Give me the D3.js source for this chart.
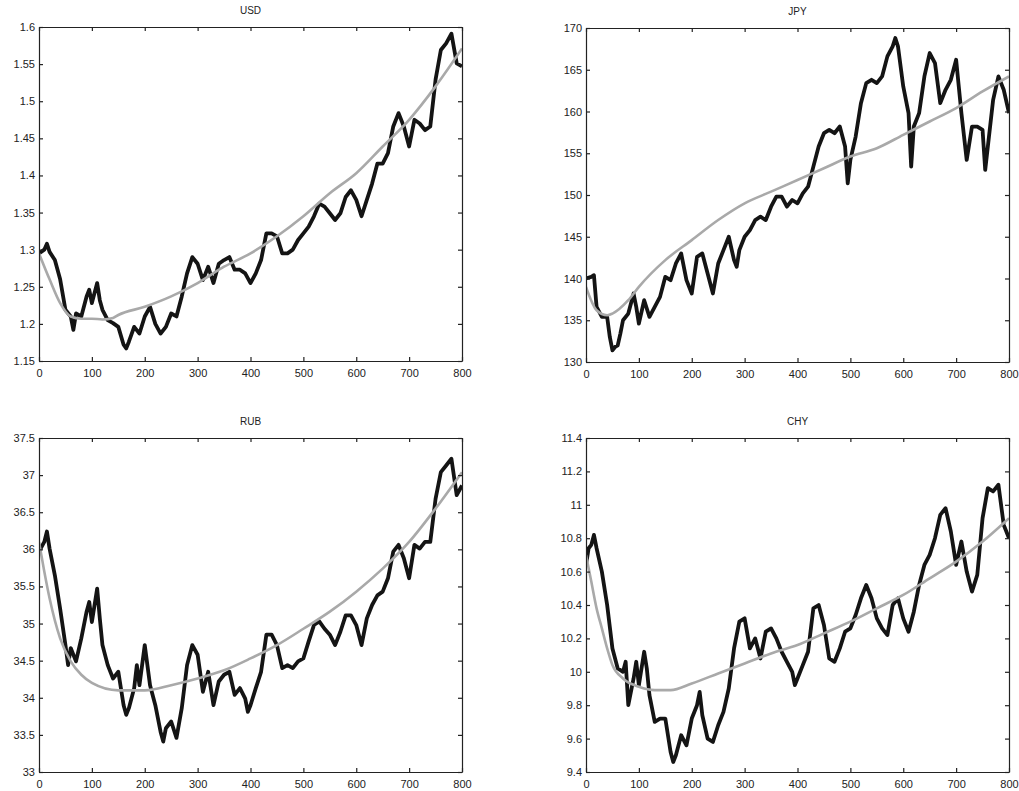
<!DOCTYPE html>
<html><head><meta charset="utf-8">
<script src="https://cdn.jsdelivr.net/npm/d3@7"></script>
<style>
body{margin:0;background:#fff;}
svg{display:block;}
text{font-family:"Liberation Sans",Arial,Helvetica,sans-serif;}
</style></head>
<body>
<svg id="chart" width="1019" height="791"></svg>
<script>
// ---- data ----
const titles = ["USD", "JPY", "RUB", "CHY"];

const xTicks = [0,100,200,300,400,500,600,700,800];

const usdT = [0,10,15,20,30,40,50,60,65,70,80,90,95,100,110,115,120,130,140,150,160,165,170,180,190,200,210,220,230,240,250,260,270,280,290,300,310,320,330,340,350,360,370,380,390,400,410,420,430,440,450,460,470,480,490,500,510,520,530,540,550,560,570,580,590,600,610,620,630,640,650,660,670,680,690,700,710,720,730,740,750,760,770,780,790,800];
const usdV = [1.295,1.30,1.308,1.297,1.286,1.26,1.219,1.21,1.192,1.214,1.21,1.237,1.246,1.228,1.255,1.232,1.219,1.205,1.201,1.196,1.172,1.167,1.176,1.196,1.187,1.21,1.223,1.2,1.187,1.196,1.214,1.21,1.237,1.268,1.29,1.281,1.259,1.277,1.255,1.281,1.286,1.29,1.273,1.273,1.268,1.255,1.268,1.286,1.322,1.322,1.318,1.295,1.295,1.30,1.313,1.322,1.331,1.345,1.362,1.358,1.349,1.34,1.349,1.371,1.38,1.367,1.345,1.367,1.389,1.416,1.416,1.43,1.466,1.484,1.466,1.439,1.475,1.47,1.461,1.466,1.529,1.569,1.578,1.591,1.551,1.547];
const usdFitT = [0,20,40,60,80,100,120,140,150,200,250,300,350,400,450,500,550,600,650,700,750,800];
const usdFitV = [1.295,1.26,1.228,1.21,1.207,1.207,1.206,1.208,1.212,1.223,1.237,1.255,1.277,1.295,1.318,1.345,1.376,1.403,1.439,1.475,1.52,1.571];
const usdYTicks = [1.15,1.2,1.25,1.3,1.35,1.4,1.45,1.5,1.55,1.6];

const jpyT = [0,10,15,20,30,40,45,50,55,60,65,70,80,90,95,100,110,120,130,140,150,160,170,180,190,200,210,220,230,240,250,260,270,280,285,290,300,310,320,330,340,350,360,370,380,390,400,410,420,430,440,450,460,470,480,490,495,500,510,520,530,540,550,560,570,580,585,590,600,610,615,620,630,640,650,660,670,680,690,700,710,720,730,740,750,755,760,770,780,790,800];
const jpyV = [140,140.2,140.4,136.6,135.4,135.4,133,131.4,131.8,132,133.4,135,135.8,138.2,136.6,134.6,137.4,135.4,136.6,137.8,140.2,139.8,141.8,143,139.8,138.2,142.6,143,140.6,138.2,141.8,143.4,145,142.2,141.4,143.4,145,145.8,147,147.4,147,148.6,149.8,149.8,148.6,149.4,149,150.2,151,153.4,155.8,157.4,157.8,157.4,158.2,155.8,151.4,154.2,157,161,163.4,163.8,163.4,164.2,166.6,167.8,168.8,167.8,163,159.8,153.4,158.2,159.8,164.2,167,165.8,161,162.6,163.8,166.2,159.8,154.2,158.2,158.2,157.8,153,155.8,161.4,164.2,162.6,159.8];
const jpyFitT = [0,20,40,50,80,100,150,200,250,300,350,400,450,500,550,600,650,700,750,800];
const jpyFitV = [139,136.2,135.6,135.8,137.4,139,142.2,144.6,147,149,150.4,151.8,153.2,154.6,155.6,157.2,158.8,160.4,162.4,164.2];
const jpyYTicks = [130,135,140,145,150,155,160,165,170];

const rubT = [0,10,15,20,30,40,50,55,60,70,80,90,95,100,110,115,120,130,140,150,160,165,170,180,185,190,200,210,220,230,235,240,250,260,270,280,290,300,310,320,330,340,350,360,370,380,390,395,400,410,420,430,440,450,460,470,480,490,500,510,520,530,540,550,560,570,580,590,600,610,620,630,640,650,660,670,680,690,700,710,720,730,740,750,760,770,780,790,800];
const rubV = [35.97,36.1,36.24,36.01,35.65,35.2,34.71,34.44,34.67,34.49,34.8,35.16,35.29,35.02,35.47,35.07,34.71,34.44,34.26,34.35,33.9,33.77,33.86,34.13,34.44,34.17,34.71,34.17,33.9,33.54,33.41,33.59,33.68,33.46,33.86,34.44,34.71,34.58,34.08,34.35,33.9,34.22,34.31,34.35,34.04,34.13,33.99,33.81,33.9,34.13,34.35,34.85,34.85,34.71,34.4,34.44,34.4,34.49,34.53,34.76,34.98,35.03,34.93,34.85,34.71,34.89,35.11,35.11,34.98,34.71,35.07,35.25,35.38,35.43,35.61,35.97,36.06,35.88,35.61,36.06,36.01,36.1,36.1,36.68,37.04,37.13,37.22,36.73,36.86];
const rubFitT = [0,10,20,40,60,80,100,150,200,250,300,350,400,450,500,550,600,650,700,750,800];
const rubFitV = [36.1,35.7,35.34,34.8,34.49,34.31,34.2,34.1,34.1,34.17,34.26,34.37,34.53,34.71,34.93,35.16,35.43,35.74,36.1,36.55,37.04];
const rubYTicks = [33,33.5,34,34.5,35,35.5,36,36.5,37,37.5];

const chyT = [0,5,10,15,20,30,40,50,60,70,75,80,90,95,100,110,115,120,130,140,150,160,165,170,180,190,200,210,215,220,230,240,250,260,270,280,290,300,310,320,330,340,350,360,370,380,390,395,400,410,420,430,440,450,460,470,480,490,500,510,520,530,540,550,560,570,580,590,600,610,620,630,640,650,660,670,680,690,700,710,720,730,740,750,760,770,780,790,800];
const chyV = [10.64,10.74,10.76,10.82,10.74,10.6,10.4,10.14,10.02,10.0,10.06,9.8,9.96,10.06,9.92,10.12,10.02,9.86,9.7,9.72,9.72,9.52,9.46,9.5,9.62,9.56,9.72,9.8,9.88,9.74,9.6,9.58,9.68,9.76,9.9,10.14,10.3,10.32,10.14,10.2,10.08,10.24,10.26,10.2,10.12,10.06,10.0,9.92,9.96,10.04,10.12,10.38,10.4,10.28,10.08,10.06,10.14,10.24,10.26,10.34,10.44,10.52,10.44,10.32,10.26,10.22,10.4,10.44,10.32,10.24,10.36,10.52,10.64,10.7,10.8,10.94,10.98,10.84,10.64,10.78,10.6,10.48,10.58,10.92,11.1,11.08,11.12,10.88,10.8];
const chyFitT = [0,10,20,30,40,50,70,100,130,160,200,250,300,350,400,450,500,550,600,650,700,750,800];
const chyFitV = [10.7,10.54,10.38,10.26,10.14,10.04,9.96,9.91,9.89,9.89,9.93,9.99,10.05,10.11,10.16,10.23,10.3,10.38,10.46,10.56,10.66,10.78,10.92];
const chyYTicks = [9.4,9.6,9.8,10,10.2,10.4,10.6,10.8,11,11.2,11.4];

// ---- layout ----
const panels = [
  {title: titles[0], t: usdT, v: usdV, ft: usdFitT, fv: usdFitV, yt: usdYTicks, x0: 39, x1: 462, y0: 27, y1: 361},
  {title: titles[1], t: jpyT, v: jpyV, ft: jpyFitT, fv: jpyFitV, yt: jpyYTicks, x0: 586, x1: 1009, y0: 28, y1: 362},
  {title: titles[2], t: rubT, v: rubV, ft: rubFitT, fv: rubFitV, yt: rubYTicks, x0: 39, x1: 462, y0: 438, y1: 772},
  {title: titles[3], t: chyT, v: chyV, ft: chyFitT, fv: chyFitV, yt: chyYTicks, x0: 586, x1: 1009, y0: 438, y1: 772}
];

const svg = d3.select("#chart");
const fmt = d => String(+d.toFixed(2));

panels.forEach(p => {
  const x = d3.scaleLinear().domain([0, 800]).range([p.x0, p.x1]);
  const y = d3.scaleLinear().domain([p.yt[0], p.yt[p.yt.length-1]]).range([p.y1, p.y0]);
  const g = svg.append("g");

  const clipId = "clip" + p.title;
  svg.append("clipPath").attr("id", clipId).append("rect")
    .attr("x", p.x0).attr("y", p.y0).attr("width", p.x1 - p.x0).attr("height", p.y1 - p.y0);

  const line = d3.line().x(d => x(d[0])).y(d => y(d[1]));
  const fitLine = d3.line().curve(d3.curveMonotoneX).x(d => x(d[0])).y(d => y(d[1]));

  g.append("path").datum(p.t.map((t, i) => [t, p.v[i]]))
    .attr("d", line).attr("fill", "none").attr("stroke", "#141414")
    .attr("stroke-width", 3.8).attr("stroke-linejoin", "round")
    .attr("clip-path", `url(#${clipId})`);
  g.append("path").datum(p.ft.map((t, i) => [t, p.fv[i]]))
    .attr("d", fitLine).attr("fill", "none").attr("stroke", "#a9a9a9")
    .attr("stroke-width", 2.6).attr("clip-path", `url(#${clipId})`);

  const styleAxis = sel => {
    sel.select(".domain").attr("stroke", "#222").attr("stroke-width", 1.2);
    sel.selectAll(".tick line").attr("stroke", "#222").attr("stroke-width", 1.2);
    sel.selectAll("text").attr("fill", "#222").style("font-size", "11px");
  };

  g.append("g").attr("transform", `translate(0,${p.y1})`)
    .call(d3.axisBottom(x).tickValues(xTicks).tickSize(-4).tickSizeOuter(0).tickPadding(8).tickFormat(d3.format("d")))
    .call(styleAxis);
  g.append("g").attr("transform", `translate(0,${p.y0})`)
    .call(d3.axisTop(x).tickValues(xTicks).tickSize(-4).tickSizeOuter(0).tickFormat(""))
    .call(styleAxis);
  g.append("g").attr("transform", `translate(${p.x0},0)`)
    .call(d3.axisLeft(y).tickValues(p.yt).tickSize(-4).tickSizeOuter(0).tickPadding(4).tickFormat(fmt))
    .call(styleAxis);
  g.append("g").attr("transform", `translate(${p.x1},0)`)
    .call(d3.axisRight(y).tickValues(p.yt).tickSize(-4).tickSizeOuter(0).tickFormat(""))
    .call(styleAxis);

  g.append("text").attr("x", (p.x0 + p.x1) / 2).attr("y", p.y0 - 13)
    .attr("text-anchor", "middle").attr("fill", "#222").style("font-size", "10px")
    .text(p.title);
});
</script>
</body></html>
